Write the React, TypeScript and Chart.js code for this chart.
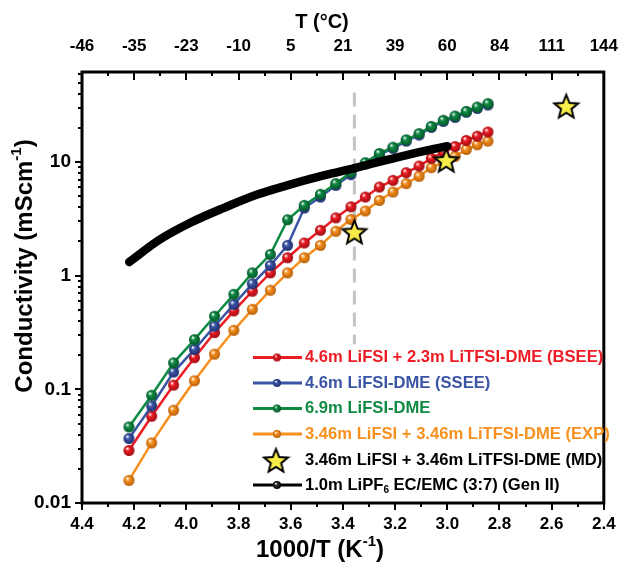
import React, { useEffect, useRef } from 'react';
import { Chart, registerables } from 'chart.js';
Chart.register(...registerables);

// ---------- data ----------
const invT = [4.220, 4.133, 4.049, 3.969, 3.892, 3.818, 3.747, 3.678, 3.612, 3.548, 3.486, 3.427, 3.369, 3.314, 3.260, 3.208, 3.157, 3.108, 3.061, 3.015, 2.970, 2.927, 2.885, 2.844];
const bseeCond = [0.029, 0.058, 0.109, 0.19, 0.316, 0.49, 0.73, 1.06, 1.44, 1.94, 2.51, 3.23, 4.04, 4.92, 6.03, 6.9, 8.07, 9.22, 10.8, 12.2, 13.7, 15.5, 16.9, 18.4];
const sseeCond = [0.0369, 0.0714, 0.142, 0.225, 0.359, 0.56, 0.849, 1.23, 1.85, 3.94, 4.92, 6.24, 7.75, 9.64, 11.6, 13.2, 15.3, 17.3, 20.2, 22.8, 24.7, 27.4, 29.6, 31.8];
const lifsi69Cond = [0.0467, 0.0887, 0.171, 0.274, 0.44, 0.686, 1.06, 1.54, 3.11, 4.16, 5.2, 6.46, 8.12, 9.88, 11.9, 13.5, 15.7, 17.8, 20.6, 23.3, 25.4, 27.9, 30.5, 32.7];
const expCond = [0.0158, 0.0338, 0.0655, 0.119, 0.204, 0.331, 0.506, 0.745, 1.06, 1.44, 1.85, 2.46, 3.13, 3.71, 4.6, 5.45, 6.46, 7.49, 8.93, 10.0, 11.2, 12.9, 14.2, 15.3];
const mdInvT = [3.356, 3.004, 2.544];
const mdCond = [2.42, 10.35, 30.9];
const genIIInvT = [4.219, 4.106, 3.981, 3.856, 3.731, 3.607, 3.481, 3.344, 3.219, 3.094, 3.0];
const genIICond = [1.32, 2.05, 2.95, 3.95, 5.15, 6.3, 7.55, 9.0, 10.6, 12.4, 13.8];
const rtInvT = [3.356, 3.356];
const rtCond = [41, 0.25];
const topTickLabels = ['-46', '-35', '-23', '-10', '5', '21', '39', '60', '84', '111', '144'];
const yLabelTicks = [0.01, 0.1, 1, 10];
const seriesLabels = [
  '4.6m LiFSI + 2.3m LiTFSI-DME (BSEE)',
  '4.6m LiFSI-DME (SSEE)',
  '6.9m LiFSI-DME',
  '3.46m LiFSI + 3.46m LiTFSI-DME (EXP)',
  '3.46m LiFSI + 3.46m LiTFSI-DME (MD)',
  '1.0m LiPF_{6} EC/EMC (3:7) (Gen II)',
];

// ---------- styles ----------
const FAMILY = '"Liberation Sans", Arial, sans-serif';
const RED = '#ed1c24', BLUE = '#3b55a5', GREEN = '#0f8a43', ORANGE = '#f7901e', BLACK = '#000000';
const STAR_FILL = '#f9ed4a';

function sphere(color: string, dark: string, r: number) {
  const c = document.createElement('canvas');
  const s = Math.ceil(r * 2 + 2);
  c.width = s; c.height = s;
  const g = c.getContext('2d')!;
  const cx = s / 2, cy = s / 2;
  const grad = g.createRadialGradient(cx - r * 0.35, cy - r * 0.4, r * 0.05, cx, cy, r);
  grad.addColorStop(0, 'rgba(255,255,255,0.95)');
  grad.addColorStop(0.35, color);
  grad.addColorStop(1, dark);
  g.fillStyle = grad;
  g.beginPath(); g.arc(cx, cy, r, 0, Math.PI * 2); g.fill();
  return c;
}

function starImg(R: number) {
  const c = document.createElement('canvas');
  const s = Math.ceil(R * 2 + 4);
  c.width = s; c.height = s;
  const g = c.getContext('2d')!;
  const cx = s / 2, cy = s / 2 + R * 0.08;
  g.beginPath();
  for (let i = 0; i < 10; i++) {
    const a = -Math.PI / 2 + (i * Math.PI) / 5;
    const rr = i % 2 === 0 ? R : R * 0.44;
    const px = cx + rr * Math.cos(a), py = cy + rr * Math.sin(a);
    if (i === 0) g.moveTo(px, py); else g.lineTo(px, py);
  }
  g.closePath();
  g.fillStyle = STAR_FILL; g.fill();
  g.lineWidth = 2; g.strokeStyle = '#000'; g.lineJoin = 'miter'; g.stroke();
  return c;
}

function drawRich(ctx: CanvasRenderingContext2D, text: string, x: number, y: number, size: number, align: 'left' | 'center', color: string) {
  const parts: { t: string; k: string; w?: number }[] = [];
  text.split(/(\^\{[^}]*\}|_\{[^}]*\})/).forEach((p) => {
    if (!p) return;
    if (p.startsWith('^{')) parts.push({ t: p.slice(2, -1), k: 'sup' });
    else if (p.startsWith('_{')) parts.push({ t: p.slice(2, -1), k: 'sub' });
    else parts.push({ t: p, k: 'n' });
  });
  const font = (k: string) => `bold ${k === 'n' ? size : Math.round(size * 0.62)}px ${FAMILY}`;
  let w = 0;
  parts.forEach((p) => { ctx.font = font(p.k); p.w = ctx.measureText(p.t).width; w += p.w; });
  let cx = align === 'center' ? x - w / 2 : x;
  ctx.fillStyle = color; ctx.textBaseline = 'middle'; ctx.textAlign = 'left';
  parts.forEach((p) => {
    ctx.font = font(p.k);
    const dy = p.k === 'sup' ? -size * 0.36 : p.k === 'sub' ? size * 0.32 : 0;
    ctx.fillText(p.t, cx, y + dy);
    cx += p.w!;
  });
}

const framePlugin = {
  id: 'frame',
  afterDraw(chart: any) {
    const { ctx, chartArea } = chart;
    const { left, right, top, bottom } = chartArea;
    const xs = chart.scales.x, ys = chart.scales.y;
    ctx.save();
    ctx.strokeStyle = '#000';
    ctx.lineWidth = 2;
    ctx.beginPath();
    for (let v = 24; v <= 44; v++) {
      const px = Math.round(xs.getPixelForValue(v / 10));
      const major = v % 2 === 0;
      ctx.moveTo(px, bottom); ctx.lineTo(px, bottom + (major ? 7 : 4));
      ctx.moveTo(px, top); ctx.lineTo(px, top + (major ? 8 : 4));
    }
    for (let d = -2; d <= 1; d++) {
      for (let m = 1; m <= 9; m++) {
        const val = m * Math.pow(10, d);
        if (val > ys.max) continue;
        const py = Math.round(ys.getPixelForValue(val));
        ctx.moveTo(left, py); ctx.lineTo(left - (m === 1 ? 7 : 4), py);
      }
    }
    ctx.stroke();
    ctx.lineWidth = 3;
    ctx.strokeRect(left, top, right - left, bottom - top);

    // axis titles
    drawRich(ctx, 'T (°C)', 322, 22, 20, 'center', '#000');
    drawRich(ctx, '1000/T (K^{-1})', 320, 550, 24, 'center', '#000');
    ctx.translate(25, 266);
    ctx.rotate(-Math.PI / 2);
    drawRich(ctx, 'Conductivity (mScm^{-1})', 0, 0, 24, 'center', '#000');
    ctx.restore();

    // legend
    ctx.save();
    const rows = [357.5, 383, 408.5, 434, 460.5, 485];
    const order = [0, 1, 2, 3, 4, 5];
    order.forEach((di, i) => {
      const ds = chart.data.datasets[di];
      const y = rows[i];
      if (ds.showLine === false) {
        const img = ds.legendImg;
        ctx.drawImage(img, 276 - img.width / 2, y - img.height / 2);
      } else {
        ctx.strokeStyle = ds.borderColor;
        ctx.lineWidth = 3;
        ctx.beginPath(); ctx.moveTo(253, y); ctx.lineTo(302, y); ctx.stroke();
        const img = ds.legendImg;
        ctx.drawImage(img, 277 - img.width / 2, y - img.height / 2);
      }
      drawRich(ctx, ds.label, 305, y, 16.6, 'left', ds.textColor);
    });
    ctx.restore();
  },
};

export default function App() {
  const ref = useRef<HTMLCanvasElement>(null);
  useEffect(() => {
    const mk = (xs: number[], ys: number[]) => xs.map((x, i) => ({ x, y: ys[i] }));
    const spR = sphere(RED, '#9e0d12', 5.5), spB = sphere(BLUE, '#1f2f6e', 5.5), spG = sphere(GREEN, '#05562a', 5.5), spO = sphere(ORANGE, '#b55e08', 5.5);
    const lgR = sphere(RED, '#9e0d12', 4), lgB = sphere(BLUE, '#1f2f6e', 4), lgG = sphere(GREEN, '#05562a', 4), lgO = sphere(ORANGE, '#b55e08', 4), lgK = sphere('#333', '#000', 4);
    const star = starImg(12.5);
    const lineDs = (label: string, data: any, color: string, img: any, lg: any, order: number) => ({
      label, data, borderColor: color, backgroundColor: color, borderWidth: 2.5,
      pointStyle: img, pointRadius: 5.5, showLine: true, order, textColor: color, legendImg: lg,
    });
    const chart = new Chart(ref.current!, {
      type: 'scatter',
      data: {
        datasets: [
          lineDs(seriesLabels[0], mk(invT, bseeCond), RED, spR, lgR, 4),
          lineDs(seriesLabels[1], mk(invT, sseeCond), BLUE, spB, lgB, 3),
          lineDs(seriesLabels[2], mk(invT, lifsi69Cond), GREEN, spG, lgG, 2),
          lineDs(seriesLabels[3], mk(invT, expCond), ORANGE, spO, lgO, 5),
          { label: seriesLabels[4], data: mk(mdInvT, mdCond), showLine: false, pointStyle: star, pointRadius: 12, order: 0, textColor: BLACK, legendImg: star } as any,
          { label: seriesLabels[5], data: mk(genIIInvT, genIICond), showLine: true, borderColor: BLACK, borderWidth: 8.5, borderCapStyle: 'round', pointRadius: 0, cubicInterpolationMode: 'monotone', order: 1, textColor: BLACK, legendImg: lgK } as any,
          { label: 'RT', data: mk(rtInvT, rtCond), showLine: true, borderColor: '#c4c4c4', borderWidth: 3, borderDash: [14, 8], pointRadius: 0, order: 6 } as any,
        ] as any,
      },
      options: {
        responsive: false,
        devicePixelRatio: 1,
        animation: false,
        events: [],
        layout: { padding: { left: 0, right: 18, top: 0, bottom: 0 } },
        plugins: { legend: { display: false }, tooltip: { enabled: false } },
        scales: {
          x: {
            type: 'linear', position: 'bottom', min: 2.4, max: 4.4, reverse: true,
            grid: { display: false, drawTicks: false }, border: { display: false },
            ticks: {
              stepSize: 0.2, autoSkip: false, maxRotation: 0, padding: 11, color: '#000',
              font: { family: FAMILY, size: 17, weight: 'bold' },
              callback: (v: any) => Number(v).toFixed(1),
            },
            afterFit: (s: any) => { s.height = 65; },
          },
          x2: {
            type: 'linear', position: 'top', min: 2.4, max: 4.4, reverse: true,
            grid: { display: false, drawTicks: false }, border: { display: false },
            ticks: {
              stepSize: 0.2, autoSkip: false, maxRotation: 0, padding: 15, color: '#000',
              font: { family: FAMILY, size: 17, weight: 'bold' },
              callback: (v: any) => topTickLabels[Math.round((4.4 - Number(v)) / 0.2)] ?? '',
            },
            afterFit: (s: any) => { s.height = 72; },
          },
          y: {
            type: 'logarithmic', position: 'left', min: 0.01, max: 62,
            grid: { display: false, drawTicks: false }, border: { display: false },
            afterBuildTicks: (s: any) => { s.ticks = yLabelTicks.map((v) => ({ value: v })); },
            ticks: {
              autoSkip: false, padding: 11, color: '#000',
              font: { family: FAMILY, size: 19, weight: 'bold' },
              callback: (v: any) => String(v),
            },
            afterFit: (s: any) => { s.width = 82; },
          },
        },
      } as any,
      plugins: [framePlugin as any],
    });
    return () => chart.destroy();
  }, []);
  return (
    <div style={{ position: 'absolute', left: 0, top: 0, width: 633, height: 568, background: '#fff' }}>
      <canvas ref={ref} width={633} height={568} style={{ display: 'block', width: 633, height: 568 }} />
    </div>
  );
}
